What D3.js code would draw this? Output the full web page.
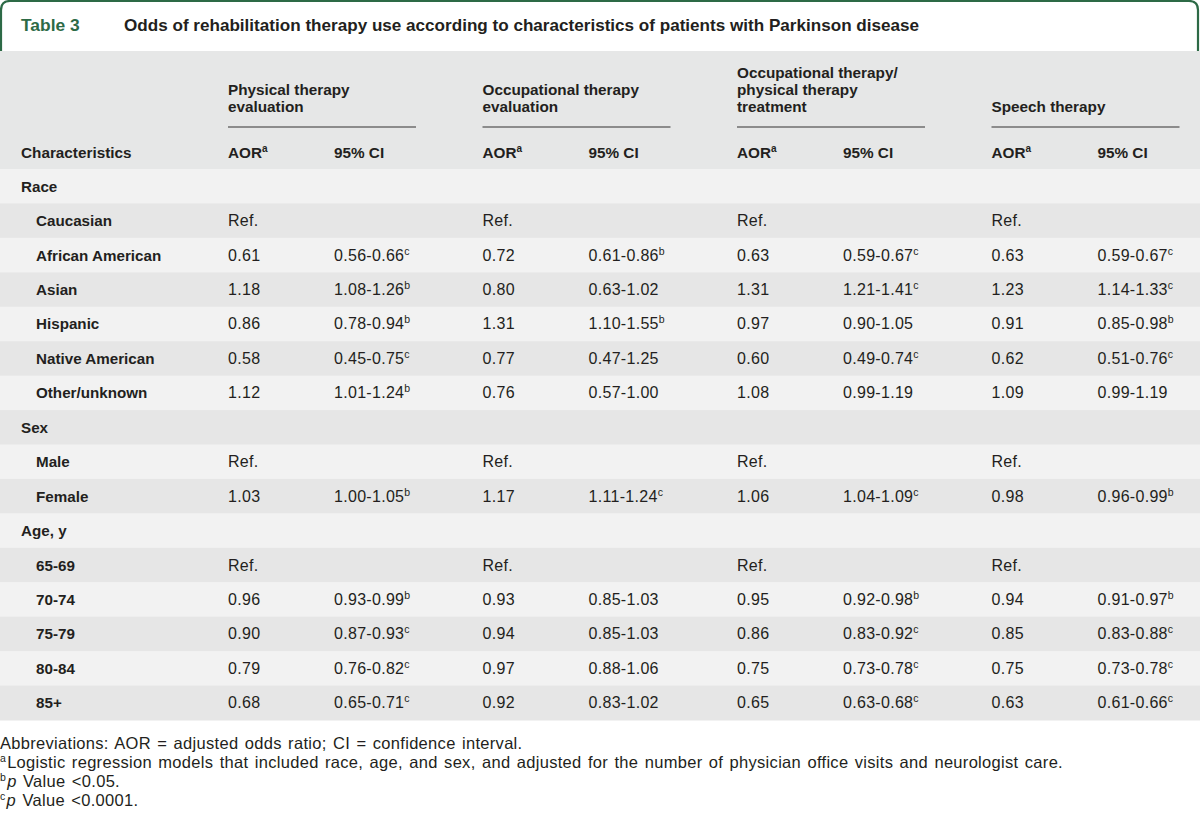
<!DOCTYPE html>
<html>
<head>
<meta charset="utf-8">
<script src="https://cdn.jsdelivr.net/npm/d3@7"></script>
<style>
  html, body { margin: 0; padding: 0; background: #fff; }
  svg { display: block; }
</style>
</head>
<body>
<div id="chart"></div>
<script>
// ---------------- DATA ----------------
const tableNumber = "Table 3";
const tableTitle = "Odds of rehabilitation therapy use according to characteristics of patients with Parkinson disease";

const groupHeaders = [
  ["Physical therapy", "evaluation"],
  ["Occupational therapy", "evaluation"],
  ["Occupational therapy/", "physical therapy", "treatment"],
  ["Speech therapy"]
];
const subHeaders = ["AOR", "95% CI"];
const firstHeader = "Characteristics";

const rowLabels = ["Race", "Caucasian", "African American", "Asian", "Hispanic", "Native American", "Other/unknown",
  "Sex", "Male", "Female", "Age, y", "65-69", "70-74", "75-79", "80-84", "85+"];
const rowIndent = [0, 1, 1, 1, 1, 1, 1, 0, 1, 1, 0, 1, 1, 1, 1, 1];

const ptAOR = ["", "Ref.", "0.61", "1.18", "0.86", "0.58", "1.12", "", "Ref.", "1.03", "", "Ref.", "0.96", "0.90", "0.79", "0.68"];
const ptCI  = ["", "", "0.56-0.66", "1.08-1.26", "0.78-0.94", "0.45-0.75", "1.01-1.24", "", "", "1.00-1.05", "", "", "0.93-0.99", "0.87-0.93", "0.76-0.82", "0.65-0.71"];
const ptSig = ["", "", "c", "b", "b", "c", "b", "", "", "b", "", "", "b", "c", "c", "c"];

const otAOR = ["", "Ref.", "0.72", "0.80", "1.31", "0.77", "0.76", "", "Ref.", "1.17", "", "Ref.", "0.93", "0.94", "0.97", "0.92"];
const otCI  = ["", "", "0.61-0.86", "0.63-1.02", "1.10-1.55", "0.47-1.25", "0.57-1.00", "", "", "1.11-1.24", "", "", "0.85-1.03", "0.85-1.03", "0.88-1.06", "0.83-1.02"];
const otSig = ["", "", "b", "", "b", "", "", "", "", "c", "", "", "", "", "", ""];

const otptAOR = ["", "Ref.", "0.63", "1.31", "0.97", "0.60", "1.08", "", "Ref.", "1.06", "", "Ref.", "0.95", "0.86", "0.75", "0.65"];
const otptCI  = ["", "", "0.59-0.67", "1.21-1.41", "0.90-1.05", "0.49-0.74", "0.99-1.19", "", "", "1.04-1.09", "", "", "0.92-0.98", "0.83-0.92", "0.73-0.78", "0.63-0.68"];
const otptSig = ["", "", "c", "c", "", "c", "", "", "", "c", "", "", "b", "c", "c", "c"];

const stAOR = ["", "Ref.", "0.63", "1.23", "0.91", "0.62", "1.09", "", "Ref.", "0.98", "", "Ref.", "0.94", "0.85", "0.75", "0.63"];
const stCI  = ["", "", "0.59-0.67", "1.14-1.33", "0.85-0.98", "0.51-0.76", "0.99-1.19", "", "", "0.96-0.99", "", "", "0.91-0.97", "0.83-0.88", "0.73-0.78", "0.61-0.66"];
const stSig = ["", "", "c", "c", "b", "c", "", "", "", "b", "", "", "b", "c", "c", "c"];

const footnotes = [
  [{t: "Abbreviations: AOR = adjusted odds ratio; CI = confidence interval."}],
  [{t: "a", sup: true}, {t: "Logistic regression models that included race, age, and sex, and adjusted for the number of physician office visits and neurologist care."}],
  [{t: "b", sup: true}, {t: "p", it: true}, {t: " Value <0.05."}],
  [{t: "c", sup: true}, {t: "p", it: true}, {t: " Value <0.0001."}]
];

// ---------------- LAYOUT ----------------
const W = 1200, H = 824;
const FONT = "'Liberation Sans', Arial, sans-serif";
const TEXT = "#231f20";
const GREEN = "#2d6a46";

const groups = [
  {aor: ptAOR, ci: ptCI, sig: ptSig},
  {aor: otAOR, ci: otCI, sig: otSig},
  {aor: otptAOR, ci: otptCI, sig: otptSig},
  {aor: stAOR, ci: stCI, sig: stSig}
];

const svg = d3.select("#chart").append("svg").attr("width", W).attr("height", H)
  .style("font-family", FONT);

// title box
const bTop = 1, bLeft = 1, bRight = W - 2, bBottom = 51, bR = 9;
svg.append("rect").attr("x", 0).attr("y", 51).attr("width", W).attr("height", 118).attr("fill", "#e6e7e7");
svg.append("path")
  .attr("d", `M${bLeft},${bBottom} L${bLeft},${bTop + bR} Q${bLeft},${bTop} ${bLeft + bR},${bTop} L${bRight - bR},${bTop} Q${bRight},${bTop} ${bRight},${bTop + bR} L${bRight},${bBottom}`)
  .attr("fill", "none").attr("stroke", GREEN).attr("stroke-width", 2.2);

svg.append("text").attr("x", 21).attr("y", 31).attr("fill", GREEN)
  .attr("font-size", 17.4).attr("font-weight", "bold").text(tableNumber);
svg.append("text").attr("x", 124).attr("y", 31).attr("fill", TEXT)
  .attr("font-size", 17.1).attr("font-weight", "bold").text(tableTitle);

// scales
const yRow = d3.scaleBand().domain(d3.range(rowLabels.length)).range([169, 720]);
const xGroup = d3.scaleBand().domain(d3.range(groups.length)).range([228, 228 + 4 * 254.5]);
const ciOffset = 106;
const lineLen = 188;

// row backgrounds
svg.append("g").selectAll("rect").data(rowLabels).join("rect")
  .attr("x", 0).attr("y", (d, i) => yRow(i)).attr("width", W).attr("height", yRow.bandwidth() + 0.5)
  .attr("fill", (d, i) => i % 2 === 0 ? "#f2f2f2" : "#e6e6e6");

// header
const hdr = svg.append("g").attr("fill", TEXT).attr("font-size", 15.3).attr("font-weight", "bold");
hdr.append("text").attr("x", 21).attr("y", 158).text(firstHeader);
groups.forEach((g, gi) => {
  const x0 = xGroup(gi);
  const lines = groupHeaders[gi];
  lines.forEach((ln, li) => {
    hdr.append("text").attr("x", x0).attr("y", 112 - (lines.length - 1 - li) * 17).text(ln);
  });
  svg.append("line").attr("x1", x0).attr("x2", x0 + lineLen).attr("y1", 127).attr("y2", 127)
    .attr("stroke", "#333").attr("stroke-width", 1.2);
  const a = hdr.append("text").attr("x", x0).attr("y", 158);
  a.append("tspan").text(subHeaders[0]);
  a.append("tspan").attr("font-size", 10).attr("dy", -6).text("a");
  hdr.append("text").attr("x", x0 + ciOffset).attr("y", 158).text(subHeaders[1]);
});

// rows
const body = svg.append("g").attr("fill", TEXT).attr("font-size", 16);
rowLabels.forEach((lab, i) => {
  const yb = yRow(i) + yRow.bandwidth() / 2 + 5.5;
  body.append("text").attr("x", rowIndent[i] ? 36 : 21).attr("y", yb)
    .attr("font-weight", "bold").attr("font-size", 15.2).text(lab);
  groups.forEach((g, gi) => {
    const x0 = xGroup(gi);
    if (g.aor[i]) body.append("text").attr("x", x0).attr("y", yb).attr("letter-spacing", 0.3).text(g.aor[i]);
    if (g.ci[i]) {
      const t = body.append("text").attr("x", x0 + ciOffset).attr("y", yb).attr("letter-spacing", 0.3);
      t.append("tspan").text(g.ci[i]);
      if (g.sig[i]) t.append("tspan").attr("font-size", 10.5).attr("dy", -6).text(g.sig[i]);
    }
  });
});

// footnotes
const fn = svg.append("g").attr("fill", TEXT).attr("font-size", 16.5)
  .attr("letter-spacing", 0.3).attr("word-spacing", 1.5);
footnotes.forEach((parts, i) => {
  const t = fn.append("text").attr("x", 0).attr("y", 749 + i * 19);
  let prevSup = false;
  parts.forEach(p => {
    const ts = t.append("tspan").text(p.t);
    if (p.sup) { ts.attr("font-size", 10.5).attr("dy", -6); prevSup = true; }
    else if (prevSup) { ts.attr("dy", 6).attr("dx", 1); prevSup = false; }
    if (p.it) ts.attr("font-style", "italic");
  });
});
</script>
</body>
</html>
